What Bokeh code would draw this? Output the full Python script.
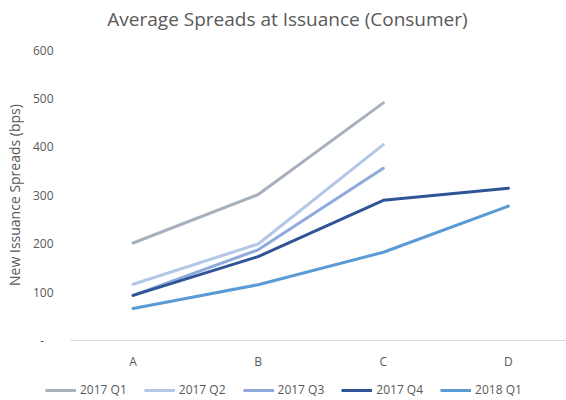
from bokeh.plotting import figure
from bokeh.models import Range1d, FixedTicker, Legend, LegendItem, Label
from bokeh.layouts import column, row
from bokeh.embed import file_html
from bokeh.resources import INLINE

title_text = "Average Spreads at Issuance (Consumer)"
y_title = "New Issuance Spreads (bps)"
categories = ["A", "B", "C", "D"]
series_names = ["2017 Q1", "2017 Q2", "2017 Q3", "2017 Q4", "2018 Q1"]
q1_2017 = [201, 301, 490]
q2_2017 = [116, 199, 404]
q3_2017 = [93, 187, 355]
q4_2017 = [93, 173, 289, 314]
q1_2018 = [66, 115, 182, 277]
y_ticks = [0, 100, 200, 300, 400, 500, 600]
colors = ["#A7B0BD", "#B4C7E7", "#8FAADC", "#2F5597", "#5B9BD5"]

FONT = "Open Sans"
GRAY = "#595959"
W = 566
HEAD_H = 41
MAIN_H = 331
LEG_H = 28

# title strip
hd = figure(width=W, height=HEAD_H, output_backend="svg", toolbar_location=None,
            x_axis_type=None, y_axis_type=None, x_range=Range1d(0, W), y_range=Range1d(0, HEAD_H),
            min_border_left=0, min_border_right=0, min_border_top=0, min_border_bottom=0,
            outline_line_color=None)
hd.xgrid.visible = False
hd.ygrid.visible = False
hd.add_layout(Label(x=287, y=HEAD_H - 18, text=title_text, text_align="center",
                    text_baseline="middle", text_font=FONT, text_font_size="19px",
                    text_color=GRAY))

# main chart
p = figure(width=W, height=MAIN_H, output_backend="svg", toolbar_location=None,
           x_range=Range1d(-0.5, 3.464), y_range=Range1d(0, 600),
           min_border_left=70, min_border_right=0, min_border_top=8, min_border_bottom=31,
           outline_line_color=None)

all_series = [q1_2017, q2_2017, q3_2017, q4_2017, q1_2018]
for name, vals, col in zip(series_names, all_series, colors):
    xs = list(range(len(vals)))
    p.line(xs, vals, line_color=col, line_width=3, line_join="round", line_cap="round")

p.xgrid.visible = False
p.ygrid.visible = False

p.xaxis.ticker = FixedTicker(ticks=list(range(len(categories))))
p.xaxis.major_label_overrides = {i: c for i, c in enumerate(categories)}
p.xaxis.axis_line_color = "#D9D9D9"
p.xaxis.axis_line_width = 1
p.xaxis.major_tick_line_color = None
p.xaxis.minor_tick_line_color = None
p.xaxis.major_tick_out = 0
p.xaxis.minor_tick_out = 0
p.xaxis.major_label_standoff = 12
p.xaxis.major_label_text_font = FONT
p.xaxis.major_label_text_font_size = "12px"
p.xaxis.major_label_text_color = GRAY

p.yaxis.ticker = FixedTicker(ticks=y_ticks)
p.yaxis.major_label_overrides = {0: "-\u00a0\u00a0\u00a0"}
p.yaxis.axis_line_color = None
p.yaxis.major_tick_line_color = None
p.yaxis.minor_tick_line_color = None
p.yaxis.major_tick_out = 0
p.yaxis.minor_tick_out = 0
p.yaxis.major_label_standoff = 17
p.yaxis.major_label_text_font = FONT
p.yaxis.major_label_text_font_size = "12px"
p.yaxis.major_label_text_color = GRAY
p.yaxis.axis_label = y_title
p.yaxis.axis_label_text_font = FONT
p.yaxis.axis_label_text_font_size = "14px"
p.yaxis.axis_label_text_font_style = "normal"
p.yaxis.axis_label_text_color = GRAY
p.yaxis.axis_label_standoff = 6

# legend strip
lg = figure(width=W, height=LEG_H, output_backend="svg", toolbar_location=None,
            x_axis_type=None, y_axis_type=None, x_range=Range1d(0, 1), y_range=Range1d(0, 1),
            min_border_left=0, min_border_right=0, min_border_top=0, min_border_bottom=0,
            outline_line_color=None)
lg.xgrid.visible = False
lg.ygrid.visible = False
items = []
for name, vals, col in zip(series_names, all_series, colors):
    # drawn outside the strip's visible range; only its legend swatch shows
    r = lg.line(list(range(len(vals))), vals, line_color=col, line_width=3)
    items.append(LegendItem(label=name, renderers=[r]))

legend = Legend(items=items, orientation="horizontal", location=(45, 2),
                label_text_font=FONT, label_text_font_size="12px", label_text_color=GRAY,
                glyph_width=31, glyph_height=16, label_height=16, label_standoff=4, spacing=17,
                border_line_color=None, background_fill_alpha=0, padding=0, margin=0)
lg.add_layout(legend, "center")

layout = column(row(hd), row(p), row(lg), spacing=0)
open("out.html", "w").write(file_html(layout, INLINE))
